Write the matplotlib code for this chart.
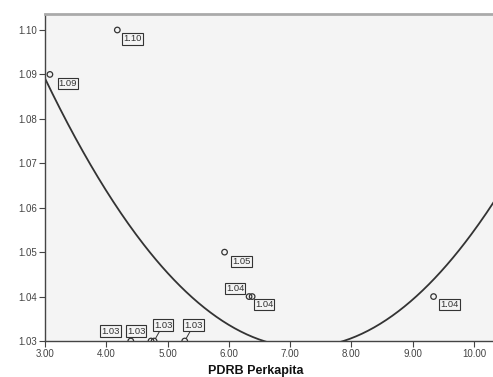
import numpy as np
import matplotlib.pyplot as plt

plt.rcParams['font.family'] = ['Liberation Sans', 'DejaVu Sans']

# observed points (PDRB perkapita vs value)
pdrb = [4.18, 3.08, 5.93, 6.33, 6.38, 9.34, 4.40, 4.73, 4.78, 5.28]
nilai = [1.10, 1.09, 1.05, 1.04, 1.04, 1.04, 1.03, 1.03, 1.03, 1.03]
labels = ['1.10', '1.09', '1.05', '1.04', '1.04', '1.04', '1.03', '1.03', '1.03', '1.03']
# label offsets in pixels (dx, dy)
offsets = [(15, -9), (18, -9), (17, -9), (-14, 8), (12, -8), (16, -8),
           (-20, 10), (-15, 10), (9, 16), (9, 16)]
leader = [False, False, False, False, False, False, False, False, True, True]

# quadratic fit line: y = a*(x-h)^2 + k
fit_a = 0.00340
fit_h = 7.22
fit_k = 1.02856

xticks = [3.0, 4.0, 5.0, 6.0, 7.0, 8.0, 9.0, 10.0]
yticks = [1.03, 1.04, 1.05, 1.06, 1.07, 1.08, 1.09, 1.10]

fig = plt.figure(figsize=(4.93, 3.77), dpi=100)
ax = fig.add_axes([45 / 493, 1 - 341 / 377, 1 - 45 / 493, (341 - 14) / 377])
ax.set_facecolor('#f4f4f4')

xs = np.linspace(3.0, 10.4, 300)
ax.plot(xs, fit_a * (xs - fit_h) ** 2 + fit_k, color='#333333', lw=1.3)

ax.scatter(pdrb, nilai, s=16, facecolors='none', edgecolors='#333333',
           linewidths=0.9, zorder=3)

for x, y, t, (dx, dy), ld in zip(pdrb, nilai, labels, offsets, leader):
    arrow = dict(arrowstyle='-', color='#333333', lw=0.7, shrinkA=0, shrinkB=2) if ld else None
    ax.annotate(t, (x, y), xytext=(dx, dy), textcoords='offset pixels',
                ha='center', va='center', fontsize=6.8, color='#333333',
                bbox=dict(boxstyle='square,pad=0.12', fc='#f4f4f4', ec='#333333', lw=0.8),
                arrowprops=arrow, zorder=4, annotation_clip=False)

ax.set_xlim(3.0, 10.31)
ax.set_ylim(1.03, 1.1036)
ax.set_xticks(xticks)
ax.set_xticklabels([f'{v:.2f}' for v in xticks])
ax.set_yticks(yticks)
ax.set_yticklabels([f'{v:.2f}' for v in yticks])
ax.tick_params(direction='out', length=4, width=0.8, labelsize=7,
               labelcolor='#444444', color='#444444', pad=1.5)

for s in ['left', 'bottom']:
    ax.spines[s].set_color('#444444')
    ax.spines[s].set_linewidth(1.0)
ax.spines['top'].set_color('#aaaaaa')
ax.spines['top'].set_linewidth(2.0)
ax.spines['right'].set_visible(False)

ax.set_xlabel('PDRB Perkapita', fontsize=9, fontweight='bold', color='#111111')
ax.xaxis.set_label_coords(0.471, -0.072)

fig.savefig('out.png', dpi=100)
